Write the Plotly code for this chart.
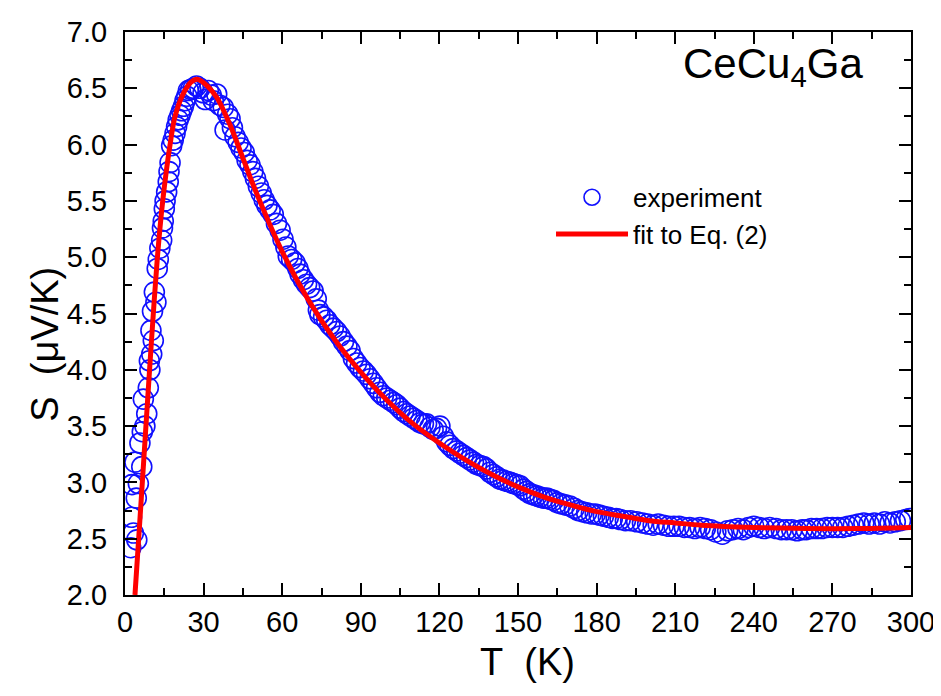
import plotly.graph_objects as go

T_exp = [2.2, 2.5, 2.6, 3.2, 3.8, 4.3, 4.5, 5.1, 5.7, 6.4, 6.6, 7.0, 7.6, 8.3, 8.9,
         9.3, 9.5, 9.9, 10.2, 10.5, 10.8, 11.2, 11.8, 12.3, 12.7, 13.3, 14.0, 14.3,
         14.6, 15.0, 15.3, 15.9, 16.5, 16.8, 17.2, 17.8, 18.4, 19.1, 19.7, 20.3,
         21.0, 21.6, 22.3, 22.9, 23.6, 24.2, 25.1, 26.1, 27.3, 28.6, 29.8, 30.6,
         31.8, 32.9, 33.7, 35.0, 36.2, 37.5, 38.2, 39.2, 40.1, 41.0, 42.0, 43.2,
         44.3, 45.5, 46.6, 47.7, 48.8, 49.8, 50.9, 52.0, 53.1, 54.2, 55.4, 56.6,
         57.8, 59.2, 60.3, 61.4, 62.3, 63.6, 64.9, 66.0, 66.8, 68.1, 69.3, 70.5,
         71.8, 73.0, 73.8, 74.4, 75.8, 77.0, 78.2, 79.5, 80.8, 82.1, 83.4, 84.7,
         85.9, 87.2, 88.4, 89.7, 91.0, 92.2, 93.5, 94.8, 96.0, 97.3, 98.6, 99.9,
         101.2, 102.5, 103.7, 105.0, 106.3, 107.5, 108.8, 110.1, 111.4, 112.6,
         113.9, 115.1, 116.4, 117.6, 118.9, 120.2, 121.5, 122.8, 124.0, 125.3,
         126.6, 127.8, 129.1, 130.4, 131.7, 133.0, 134.2, 135.5, 136.8, 138.0,
         139.3, 140.6, 141.9, 143.1, 144.4, 145.7, 147.0, 148.2, 149.5, 150.8,
         152.1, 153.3, 154.6, 155.9, 157.1, 158.4, 159.7, 161.0, 162.2, 163.5,
         165.0, 166.5, 168.0, 169.8, 171.5, 173.0, 174.5, 176.2, 178.0, 179.5,
         181.0, 182.6, 184.5, 186.0, 187.5, 189.0, 191.0, 193.0, 195.3, 197.5,
         199.5, 201.6, 203.5, 205.5, 207.5, 209.5, 211.5, 213.5, 215.5, 217.5,
         219.5, 221.5, 223.5, 225.5, 228.0, 230.0, 232.0, 234.0, 236.0, 238.0,
         240.0, 242.0, 244.0, 246.0, 248.5, 250.5, 252.5, 254.5, 256.5, 258.5,
         260.0, 262.0, 264.0, 266.0, 268.0, 270.0, 272.0, 274.0, 276.0, 278.0,
         280.0, 282.0, 284.0, 286.0, 288.0, 290.0, 292.0, 294.0, 296.0, 298.0,
         299.5]
S_exp = [2.42, 2.69, 2.98, 2.55, 3.18, 2.86, 2.49, 2.99, 3.35, 3.14, 3.45, 3.74, 3.50,
         3.61, 3.84, 4.08, 4.00, 4.35, 4.14, 4.52, 4.26, 4.69, 4.60, 4.90, 4.98,
         5.08, 5.15, 5.26, 5.32, 5.43, 5.50, 5.58, 5.67, 5.76, 5.84, 5.99, 6.04,
         6.10, 6.16, 6.22, 6.26, 6.30, 6.34, 6.39, 6.43, 6.48, 6.49, 6.50, 6.52,
         6.50, 6.46, 6.40, 6.48, 6.44, 6.39, 6.45, 6.35, 6.33, 6.13, 6.27, 6.23,
         6.15, 6.07, 6.02, 5.97, 5.93, 5.86, 5.82, 5.76, 5.70, 5.63, 5.57, 5.51,
         5.46, 5.42, 5.38, 5.30, 5.24, 5.16, 5.09, 5.01, 4.98, 4.95, 4.90, 4.85,
         4.80, 4.76, 4.73, 4.70, 4.63, 4.53, 4.49, 4.47, 4.44, 4.40, 4.37, 4.34,
         4.30, 4.25, 4.21, 4.17, 4.10, 4.06, 4.02, 3.99, 3.96, 3.92, 3.88, 3.84,
         3.80, 3.77, 3.75, 3.73, 3.71, 3.69, 3.66, 3.63, 3.61, 3.59, 3.57, 3.55,
         3.53, 3.52, 3.52, 3.49, 3.47, 3.48, 3.50, 3.41, 3.36, 3.33, 3.30, 3.28,
         3.26, 3.24, 3.22, 3.20, 3.18, 3.16, 3.15, 3.14, 3.12, 3.09, 3.07, 3.05,
         3.03, 3.02, 3.01, 3.00, 2.99, 2.98, 2.97, 2.94, 2.92, 2.90, 2.89, 2.88,
         2.87, 2.86, 2.86, 2.85, 2.84, 2.82, 2.81, 2.80, 2.79, 2.77, 2.75, 2.74,
         2.73, 2.72, 2.72, 2.71, 2.70, 2.69, 2.68, 2.68, 2.67, 2.66, 2.66, 2.65,
         2.64, 2.63, 2.62, 2.63, 2.62, 2.61, 2.61, 2.61, 2.60, 2.60, 2.59, 2.60,
         2.59, 2.58, 2.56, 2.54, 2.57, 2.58, 2.59, 2.58, 2.60, 2.61, 2.60, 2.59,
         2.60, 2.59, 2.58, 2.58, 2.58, 2.57, 2.58, 2.58, 2.59, 2.59, 2.59, 2.60,
         2.60, 2.60, 2.60, 2.61, 2.62, 2.63, 2.64, 2.63, 2.64, 2.63, 2.65, 2.64,
         2.65, 2.66, 2.67, 2.68]

# Fit to Eq. (2)
T_fit = [3.8, 5.5, 7.0, 8.6, 10.2, 12.3, 14.4, 17.2, 19.1, 22.2, 25.0, 27.4, 30.0,
         35.0, 40.0, 45.0, 50.0, 60.0, 70.0, 80.0, 90.0, 100.0, 110.0, 120.0,
         130.0, 140.0, 150.0, 160.0, 170.0, 180.0, 190.0, 200.0, 210.0, 220.0,
         240.0, 260.0, 280.0, 300.0]
S_fit = [2.00, 2.60, 3.14, 3.72, 4.29, 4.98, 5.50, 6.00, 6.25, 6.45, 6.55, 6.58, 6.55,
         6.42, 6.18, 5.88, 5.58, 5.05, 4.62, 4.27, 3.98, 3.73, 3.52, 3.35, 3.20,
         3.07, 2.96, 2.87, 2.80, 2.74, 2.70, 2.66, 2.64, 2.62, 2.60, 2.59, 2.59,
         2.60]

FONT = "Arial, Liberation Sans, sans-serif"

fig = go.Figure()
fig.add_trace(go.Scatter(
    x=T_exp, y=S_exp, mode="markers", name="experiment",
    marker=dict(symbol="circle-open", size=20, color="#1010ff",
                line=dict(width=1.6, color="#1010ff")),
))
fig.add_trace(go.Scatter(
    x=T_fit, y=S_fit, mode="lines", name="fit to Eq. (2)",
    line=dict(color="#ff0000", width=5, shape="spline", smoothing=0.8),
))

# Compound label
fig.add_annotation(
    xref="paper", yref="paper", x=0.9415, y=0.99,
    xanchor="right", yanchor="top",
    text="CeCu<sub>4</sub>Ga", showarrow=False,
    font=dict(size=42, color="black", family=FONT),
)

# Axis titles (placed as annotations to match the original offsets)
fig.add_annotation(
    xref="paper", yref="paper", x=0.512, y=-0.119,
    xanchor="center", yanchor="middle", showarrow=False,
    text="T\u00a0\u00a0(K)", font=dict(size=38, color="black", family=FONT),
)
fig.add_annotation(
    xref="paper", yref="paper", x=-0.102, y=0.446,
    xanchor="center", yanchor="middle", showarrow=False, textangle=-90,
    text="S\u00a0\u00a0(\u03bcV/K)", font=dict(size=38, color="black", family=FONT),
)

axis_common = dict(
    showline=True, linecolor="black", linewidth=2, mirror="ticks",
    ticks="inside", ticklen=12, tickwidth=2, tickcolor="black",
    showgrid=False, zeroline=False, ticklabeloverflow="allow",
    tickfont=dict(size=29, color="black", family=FONT),
)

fig.update_xaxes(
    range=[0, 300], tick0=0, dtick=30, ticklabelstandoff=0,
    minor=dict(ticks="inside", ticklen=7, tickwidth=2, tickcolor="black", dtick=15),
    **axis_common,
)
fig.update_yaxes(
    range=[2.0, 7.0], tick0=2.0, dtick=0.5, tickformat=".1f", ticklabelstandoff=10,
    minor=dict(ticks="inside", ticklen=7, tickwidth=2, tickcolor="black", dtick=0.25),
    **axis_common,
)

# page body adds an 8px offset, so margins are shifted by that amount
fig.update_layout(
    width=941, height=696,
    margin=dict(l=117, r=38, t=8, b=109),
    plot_bgcolor="white", paper_bgcolor="white",
    font=dict(family=FONT, color="black"),
    showlegend=True,
    legend=dict(
        x=0.542, y=0.748, xanchor="left", yanchor="top",
        bgcolor="rgba(0,0,0,0)", font=dict(size=26, family=FONT),
        itemwidth=72, tracegroupgap=0,
    ),
)

fig.write_html("out.html")
